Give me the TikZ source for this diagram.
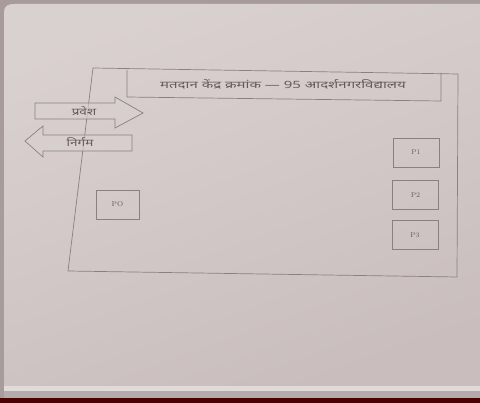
\documentclass[tikz,border=0pt]{standalone}
\usepackage{fontspec}
\newfontfamily\deva[Script=Devanagari]{Noto Sans}
\definecolor{bgdark}{HTML}{A89C9B}
\definecolor{paper}{HTML}{C9BEBD}
\definecolor{paperlight}{HTML}{D9D1D0}
\definecolor{ink}{HTML}{8A8080}
\definecolor{txt}{HTML}{645A5A}
\tikzset{
  lin/.style={draw=ink, line width=0.7pt},
  cbox/.style={draw=ink, line width=0.7pt, minimum width=46pt, minimum height=29pt, font=\fontsize{7}{8}\selectfont, text=txt, inner sep=0pt},
  dtext/.style={font=\deva\fontsize{10}{11}\selectfont, text=txt, inner sep=0pt},
}
\begin{document}
\begin{tikzpicture}[x=1pt,y=-1pt]
\useasboundingbox (0,0) rectangle (480,403);
% background and paper
\fill[bgdark] (0,0) rectangle (480,403);
\shade[top color=paperlight, bottom color=paper, shading angle=20]
  (4,12) .. controls (4,6) and (8,4) .. (14,4) -- (480,4) -- (480,388) -- (4,388) -- cycle;
\fill[paperlight!80!white] (4,386) rectangle (480,391);
\fill[paper!90!black] (4,391) rectangle (480,398);
\fill[black!70!red] (0,398) rectangle (480,403);
% main frame (slightly skewed)
\coordinate (ftl) at (93,68);
\coordinate (ftr) at (458,74);
\coordinate (fbr) at (457,277);
\coordinate (fbl) at (68,271);
\draw[lin] (ftl) -- (ftr) -- (fbr) -- (fbl) -- cycle;
% title box
\coordinate (ttl) at (127,70);
\coordinate (ttr) at (441,73);
\coordinate (tbr) at (441,101);
\coordinate (tbl) at (127,97);
\draw[lin] (ttl) -- (tbl) -- (tbr) -- (ttr);
\node[dtext, xscale=1.5] (title) at (283,84) {मतदान केंद्र क्रमांक — 95 आदर्शनगरविद्यालय};
% entry arrow (right)
\draw[lin, fill=paperlight, fill opacity=0.6] (35,103) -- (115,103) -- (115,97) -- (143,113) -- (115,128) -- (115,119) -- (35,119) -- cycle;
\node[dtext, xscale=1.35] (entry) at (84,111) {प्रवेश};
% exit arrow (left)
\draw[lin, fill=paperlight, fill opacity=0.6] (132,135) -- (43,135) -- (43,126) -- (25,141) -- (43,157) -- (43,151) -- (132,151) -- cycle;
\node[dtext, xscale=1.35] (exit) at (80,142) {निर्गम};
% officer boxes
\node[cbox, minimum width=43pt] (PO) at (117.5,204.5) {PO};
\node[cbox] (P1) at (416,152.5) {P1};
\node[cbox] (P2) at (415.5,195) {P2};
\node[cbox] (P3) at (415,235) {P3};
\end{tikzpicture}
\end{document}
